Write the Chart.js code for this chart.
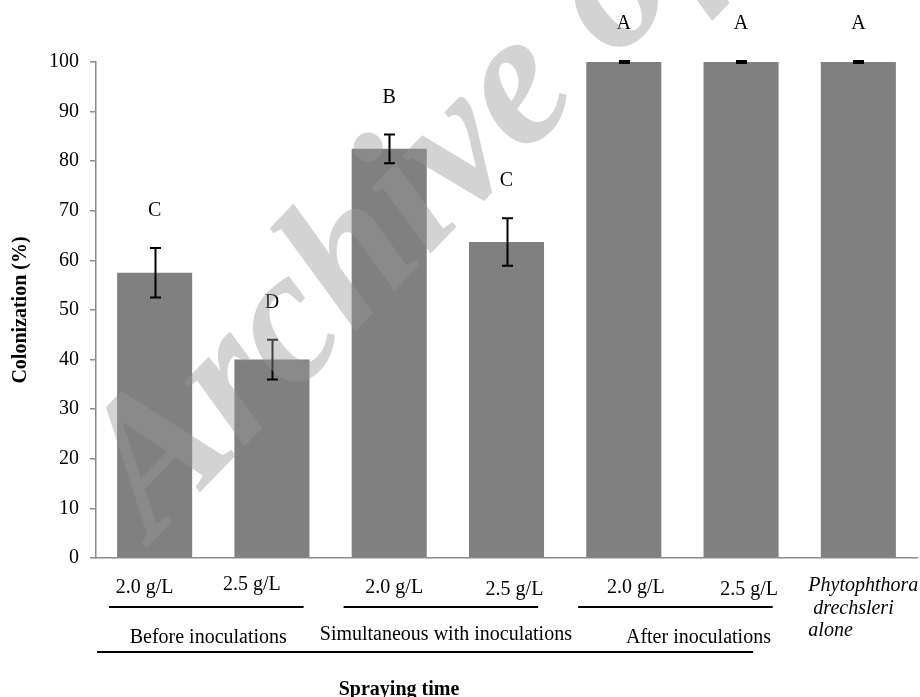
<!DOCTYPE html>
<html>
<head>
<meta charset="utf-8">
<script src="https://cdn.jsdelivr.net/npm/chart.js@4.4.1/dist/chart.umd.min.js"></script>
<style>
  html, body { margin: 0; padding: 0; background: #fff; }
  #wrap { width: 920px; height: 697px; }
</style>
</head>
<body>
<div id="wrap"><canvas id="colonizationChart" width="920" height="697"></canvas></div>
<script>
// values
const categories = ["2.0 g/L", "2.5 g/L", "2.0 g/L", "2.5 g/L", "2.0 g/L", "2.5 g/L", ["Phytophthora", " drechsleri", "alone"]];
const colonization = [57.5, 40, 82.5, 63.7, 100, 100, 100];
const stdErrors = [5, 4, 2.9, 4.8, 0.2, 0.2, 0.2];
const letters = ["C", "D", "B", "C", "A", "A", "A"];
const groups = ["Before inoculations", "Simultaneous with inoculations", "After inoculations"];
const yTitle = "Colonization (%)";
const xTitle = "Spraying time";
const watermark = "Archive of SID";

const serif = '"Liberation Serif", "Times New Roman", serif';

// small nudges so labels sit where they do in the original
const labelDx = [-10, -20, 5, 8, 12, 8, 0];
const labelDy = [0, -3, 0, 2, 0, 2, -2];
const groupDx = [-5, -2, 16];
const groupDy = [0, -3, 0];

const annotate = {
    id: "annotate",
    afterDatasetsDraw(chart) {
        const ctx = chart.ctx;
        const x = chart.scales.x;
        const y = chart.scales.y;

        ctx.save();
        // error bars
        ctx.strokeStyle = "#000";
        ctx.lineWidth = 2;
        colonization.forEach((v, i) => {
            const cx = Math.round(x.getPixelForValue(i)) + 0.5;
            const top = y.getPixelForValue(v + stdErrors[i]);
            const bot = y.getPixelForValue(v - stdErrors[i]);
            ctx.beginPath();
            ctx.moveTo(cx, top);
            ctx.lineTo(cx, bot);
            ctx.moveTo(cx - 5.5, top);
            ctx.lineTo(cx + 5.5, top);
            ctx.moveTo(cx - 5.5, bot);
            ctx.lineTo(cx + 5.5, bot);
            ctx.stroke();
        });

        // significance letters
        ctx.fillStyle = "#000";
        ctx.font = "20px " + serif;
        ctx.textAlign = "center";
        ctx.textBaseline = "middle";
        letters.forEach((l, i) => {
            const cx = x.getPixelForValue(i);
            const top = y.getPixelForValue(colonization[i] + stdErrors[i]);
            ctx.fillText(l, cx, top - 37);
        });
        ctx.restore();
    },
    afterDraw(chart) {
        const ctx = chart.ctx;
        const x = chart.scales.x;
        const half = (x.getPixelForValue(1) - x.getPixelForValue(0)) / 2;
        const base = 593;

        ctx.save();
        ctx.fillStyle = "#000";
        ctx.textBaseline = "alphabetic";

        // category labels
        categories.forEach((c, i) => {
            const cx = x.getPixelForValue(i);
            if (Array.isArray(c)) {
                ctx.font = "italic 20px " + serif;
                ctx.textAlign = "left";
                c.forEach((line, k) => {
                    ctx.fillText(line, cx - 50, base + labelDy[i] + k * 22.5);
                });
            } else {
                ctx.font = "20px " + serif;
                ctx.textAlign = "center";
                ctx.fillText(c, cx + labelDx[i], base + labelDy[i]);
            }
        });

        // group underlines and names
        ctx.strokeStyle = "#000";
        ctx.lineWidth = 2;
        ctx.font = "20px " + serif;
        ctx.textAlign = "center";
        groups.forEach((g, k) => {
            const left = x.getPixelForValue(2 * k) - half;
            const right = x.getPixelForValue(2 * k + 1) + half;
            ctx.beginPath();
            ctx.moveTo(left + 13, 607);
            ctx.lineTo(right - 27, 607);
            ctx.stroke();
            ctx.fillText(g, (left + right) / 2 + groupDx[k], 643 + groupDy[k]);
        });

        // long rule under the groups
        ctx.beginPath();
        ctx.moveTo(chart.chartArea.left + 1, 652);
        ctx.lineTo(x.getPixelForValue(5) + 12, 652);
        ctx.stroke();

        // axis title
        ctx.font = "bold 20px " + serif;
        ctx.fillText(xTitle, 399, 695);

        // archive watermark over everything
        ctx.translate(153, 541);
        ctx.rotate(-46 * Math.PI / 180);
        ctx.font = "italic bold 192px " + serif;
        ctx.textAlign = "left";
        ctx.fillStyle = "rgba(151, 151, 153, 0.42)";
        ctx.fillText(watermark, 0, 0);
        ctx.restore();
    },
};

new Chart(document.getElementById("colonizationChart"), {
    type: "bar",
    data: {
        labels: categories,
        datasets: [
            {
                data: colonization,
                backgroundColor: "#808080",
                borderWidth: 0,
                barPercentage: 0.64,
                categoryPercentage: 1.0,
            },
        ],
    },
    options: {
        responsive: false,
        animation: false,
        layout: {
            padding: { left: 0, top: 62, right: 3, bottom: 139 },
        },
        plugins: {
            legend: { display: false },
            tooltip: { enabled: false },
        },
        scales: {
            x: {
                ticks: { display: false },
                grid: { display: false },
                border: { display: true, color: "#8a8a8a", width: 1.5 },
                afterFit: (scale) => { scale.height = 0; },
            },
            y: {
                min: 0,
                max: 100,
                ticks: {
                    stepSize: 10,
                    color: "#000",
                    padding: 11,
                    font: { family: serif, size: 20 },
                },
                grid: {
                    drawOnChartArea: false,
                    drawTicks: true,
                    tickLength: 6,
                    color: "#8a8a8a",
                    lineWidth: 1.5,
                },
                border: { display: true, color: "#8a8a8a", width: 1.5 },
                title: {
                    display: true,
                    text: yTitle,
                    color: "#000",
                    padding: { top: 9 },
                    font: { family: serif, size: 20, weight: "bold" },
                },
                afterFit: (scale) => { scale.width = 96; },
            },
        },
    },
    plugins: [annotate],
});
</script>
</body>
</html>
